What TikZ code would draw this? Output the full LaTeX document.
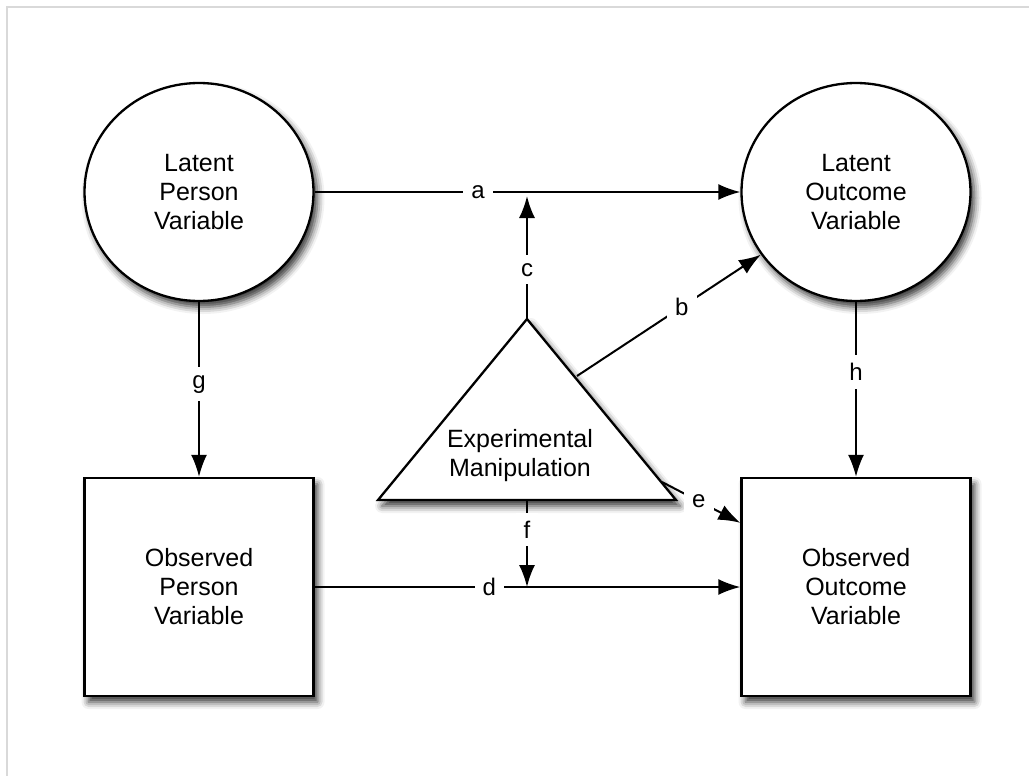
\documentclass[tikz,border=0pt]{standalone}
\usepackage{fontspec}
\setmainfont{Liberation Sans}
\usetikzlibrary{shapes.geometric,arrows.meta,shadows.blur}
\begin{document}
\begin{tikzpicture}[x=1pt,y=-1pt,
  every node/.style={font=\fontsize{25}{29}\selectfont},
  shad/.style={blur shadow={shadow xshift=4pt,shadow yshift=-6pt,shadow blur radius=7pt,shadow opacity=80}},
  latent/.style={ellipse,draw,line width=2.3pt,fill=white,minimum width=229pt,minimum height=218pt,align=center,inner sep=0pt,shad},
  observed/.style={rectangle,draw,line width=2.3pt,fill=white,minimum width=229pt,minimum height=218pt,align=center,inner sep=0pt,shad},
  tri/.style={draw,line width=2.3pt,fill=white,line join=miter,shad},
  conn/.style={line width=2pt,-{Latex[length=22pt,width=16pt,fill=black]}},
  lbl/.style={fill=white,inner sep=8pt,font=\fontsize{24}{29}\selectfont}
]
\useasboundingbox (0,0) rectangle (1029,776);
\draw[black!15,line width=1.5pt] (7,776) -- (7,7) -- (1029,7);

\node[latent]   (lpv) at (199,192) {Latent\\Person\\Variable};
\node[latent]   (lov) at (856,192) {Latent\\Outcome\\Variable};
\node[observed] (opv) at (199,587) {Observed\\Person\\Variable};
\node[observed] (oov) at (856,587) {Observed\\Outcome\\Variable};

\path[tri] (527,319) coordinate (apex) -- (676,500) coordinate (rc) -- (378,500) coordinate (lc) -- cycle;
\node[align=center] (em) at (520,456) {Experimental\\Manipulation};

\coordinate (bstart) at (577,376);
\coordinate (estart) at (662,482);
\coordinate (fstart) at (527,500);
\coordinate (ca) at (527,196);
\coordinate (fd) at (527,587);
\path (oov.north west) ++(0,46) coordinate (eend);

\draw[conn] (lpv.east) -- node[lbl,pos=0.384]{a} (lov.west);
\draw[conn] (apex) -- node[lbl,pos=0.4]{c} (ca);
\draw[conn] (bstart) -- node[lbl,pos=0.57]{b} (lov);
\draw[conn] (lpv.south) -- node[lbl,pos=0.47]{g} (opv.north);
\draw[conn] (lov.south) -- node[lbl,pos=0.4]{h} (oov.north);
\draw[conn] (opv.east) -- node[lbl,pos=0.41]{d} (oov.west);
\draw[conn] (fstart) -- node[lbl,pos=0.34]{f} (fd);
\draw[conn] (estart) -- node[lbl,pos=0.47]{e} (eend);
\end{tikzpicture}
\end{document}
